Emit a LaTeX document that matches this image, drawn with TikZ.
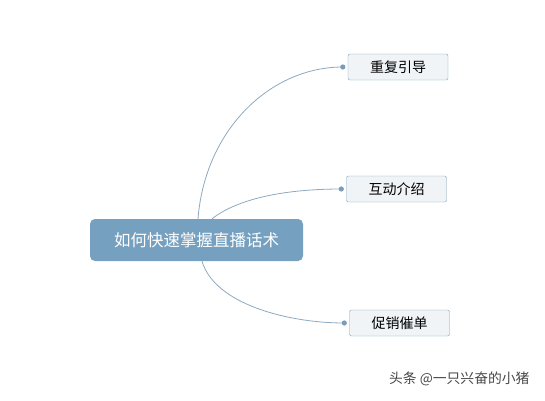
\documentclass[tikz,border=0pt]{standalone}
\usepackage{fontspec}
\newfontfamily\cjk{Noto Sans CJK SC}
\usetikzlibrary{positioning}
\definecolor{rootblue}{HTML}{76A0BF}
\definecolor{topicfill}{HTML}{F0F4F7}
\definecolor{topicline}{HTML}{7F9FB9}
\definecolor{branchline}{HTML}{8DA9C0}
\definecolor{dotblue}{HTML}{7A9CB8}
\tikzstyle{root} = [fill=rootblue, rounded corners=5pt, minimum width=213pt, minimum height=42pt, text=white, inner sep=0pt, font={\cjk\fontsize{16.5}{20}\selectfont}]
\tikzstyle{topic} = [draw=topicline, fill=topicfill, rounded corners=2pt, minimum width=100pt, minimum height=26pt, inner sep=0pt, font={\cjk\fontsize{14}{17}\selectfont}]
\tikzstyle{branch} = [draw=branchline, line width=0.8pt]

\begin{document}
\begin{tikzpicture}[x=1pt, y=-1pt]
    \useasboundingbox (0,0) rectangle (545,400);
    \node [root] (root) at (196.5,240) {如何快速掌握直播话术};
    \node [topic] (rep) at (398,67) {重复引导};
    \node [topic] (int) at (396.5,189) {互动介绍};
    \node [topic] (pro) at (399.5,323) {促销催单};
    \coordinate (repdot) at ([xshift=-5pt]rep.west);
    \coordinate (intdot) at ([xshift=-5pt]int.west);
    \coordinate (prodot) at ([xshift=-5pt]pro.west);

    % Branches
    \draw [branch] ([xshift=1.5pt]root.north) .. controls (205,130) and (270,67) .. (repdot);
    \draw [branch] ([xshift=15.5pt]root.north) .. controls (240,197) and (290,189) .. (intdot);
    \draw [branch] ([xshift=5.5pt]root.south) .. controls (215,305) and (290,323) .. (prodot);
    \foreach \d in {repdot, intdot, prodot}
        \fill [dotblue] (\d) circle (2.6pt);

    \node [anchor=east, text=black!72, font={\cjk\fontsize{13.8}{16}\selectfont}] (mark) at (533,379) {头条 @一只兴奋的小猪};
\end{tikzpicture}
\end{document}
